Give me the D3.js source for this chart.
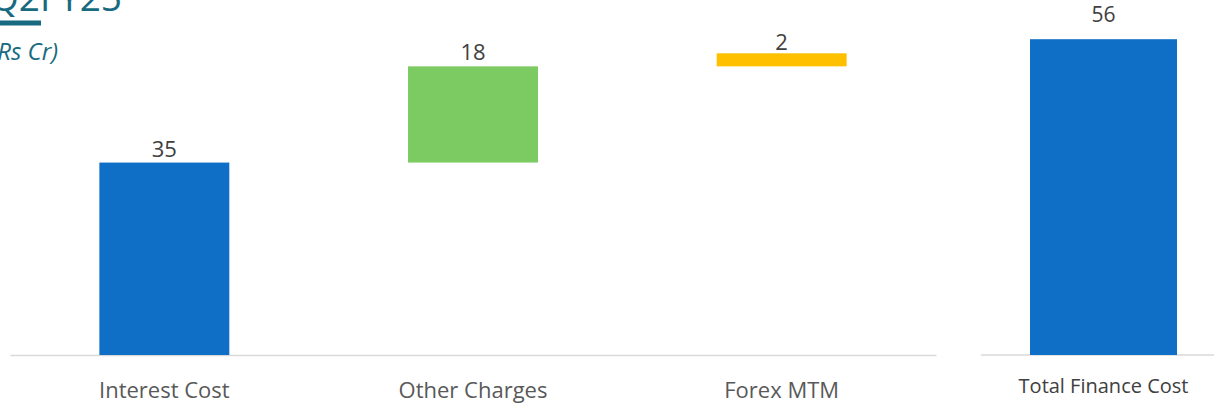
<!DOCTYPE html>
<html><head><meta charset="utf-8">
<script src="https://cdn.jsdelivr.net/npm/d3@7"></script>
<style>body{margin:0;background:#fff}svg{display:block}text{font-family:"Open Sans",sans-serif}</style>
</head><body><svg id="c" width="1214" height="407"></svg>
<script>
const categories = ["Interest Cost", "Other Charges", "Forex MTM"];
const values = [35.4, 17.7, 2.4];
const colors = ["#0f6fc6", "#7ccb62", "#ffc000"];
const totalCategory = ["Total Finance Cost"];
const totalValue = [55.5];
const title = "Q2FY25";
const unitLabel = "(Rs Cr)";

const svg = d3.select("#c");
const base = 355;

// waterfall
let acc = 0;
const wf = values.map((v, i) => { const s = acc; acc += v; return {c: categories[i], v, s, e: acc, col: colors[i]}; });

const x = d3.scaleBand().domain(categories).range([10, 936]).paddingInner(0.579).paddingOuter(0.2895);
const y = d3.scaleLinear().domain([0, 60]).range([base, base - 60 * 5.436]);

const x2 = d3.scaleBand().domain(totalCategory).range([981, 1226]).paddingInner(0).paddingOuter(1/3);
const y2 = d3.scaleLinear().domain([0, 60]).range([base, base - 60 * 5.69]);

// axis lines
const ax1 = svg.append("g").attr("transform", `translate(0,${base})`).call(d3.axisBottom(x).tickSize(0).tickPadding(0).tickFormat(""));
ax1.select(".domain").attr("stroke", "#d9d9d9").attr("stroke-width", 1.6);
const ax2 = svg.append("g").attr("transform", `translate(0,${base})`).call(d3.axisBottom(x2).tickSize(0).tickFormat(""));
ax2.select(".domain").attr("stroke", "#d9d9d9").attr("stroke-width", 1.6).attr("d", "M981,0H1214");

// bars
svg.selectAll("rect.wf").data(wf).join("rect").attr("class", "wf")
  .attr("x", d => x(d.c)).attr("width", x.bandwidth())
  .attr("y", d => y(d.e)).attr("height", d => y(d.s) - y(d.e))
  .attr("fill", d => d.col);

svg.selectAll("text.vl").data(wf).join("text").attr("class", "vl")
  .attr("x", d => x(d.c) + x.bandwidth() / 2).attr("y", d => y(d.e) - (d.v < 5 ? 3 : 6))
  .attr("text-anchor", "middle").attr("font-size", 22).attr("fill", "#404040")
  .text(d => d3.format(".0f")(d.v));

svg.selectAll("text.cl").data(categories).join("text").attr("class", "cl")
  .attr("x", d => x(d) + x.bandwidth() / 2).attr("y", 398)
  .attr("text-anchor", "middle").attr("font-size", 22).attr("fill", "#595959")
  .text(d => d);

// total bar
svg.selectAll("rect.tot").data(totalValue).join("rect").attr("class", "tot")
  .attr("x", (d, i) => x2(totalCategory[i])).attr("width", x2.bandwidth())
  .attr("y", d => y2(d)).attr("height", d => base - y2(d)).attr("fill", "#0f6fc6");
svg.selectAll("text.tv").data(totalValue).join("text").attr("class", "tv")
  .attr("x", (d, i) => x2(totalCategory[i]) + x2.bandwidth() / 2).attr("y", 22)
  .attr("text-anchor", "middle").attr("font-size", 21).attr("fill", "#404040")
  .text(d => d3.format(".0f")(d));
svg.selectAll("text.tc").data(totalCategory).join("text").attr("class", "tc")
  .attr("x", d => x2(d) + x2.bandwidth() / 2).attr("y", 393)
  .attr("text-anchor", "middle").attr("font-size", 20).attr("fill", "#404040")
  .text(d => d);

// title
svg.append("text").attr("x", 122).attr("y", 11).attr("text-anchor", "end")
  .attr("font-size", 37).attr("fill", "#176a80").text(title);
svg.append("rect").attr("x", 0).attr("y", 20.5).attr("width", 41).attr("height", 5).attr("fill", "#176a80");
svg.append("text").attr("x", 58).attr("y", 60).attr("text-anchor", "end")
  .attr("font-size", 24).attr("font-style", "italic").attr("fill", "#176a80").text(unitLabel);
</script></body></html>
